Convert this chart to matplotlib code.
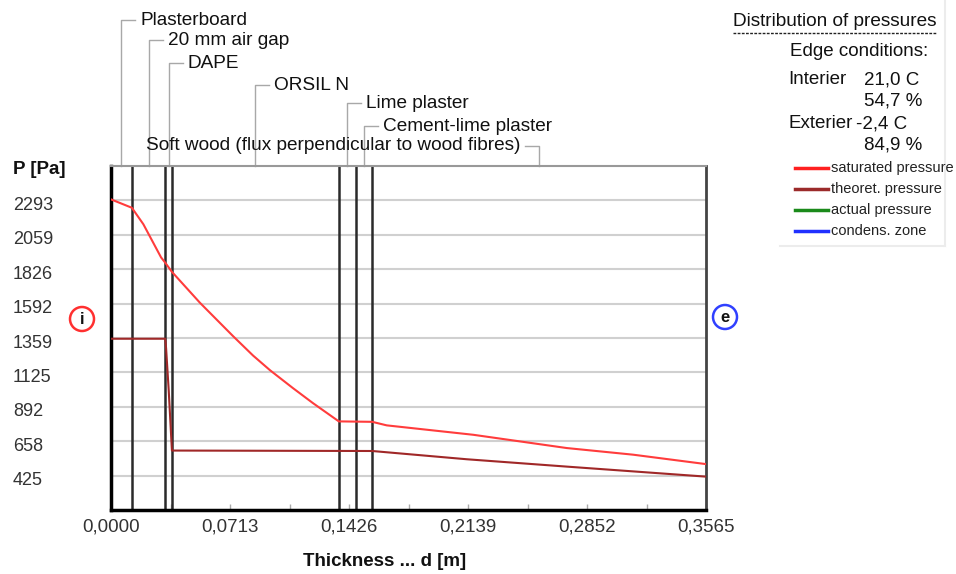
import matplotlib
matplotlib.use('Agg')
import matplotlib.pyplot as plt
import matplotlib.transforms as mtransforms
from matplotlib.lines import Line2D
from matplotlib.patches import Ellipse
from matplotlib.ticker import MultipleLocator

plt.rcParams['font.family'] = ['Liberation Sans', 'DejaVu Sans']

W, H = 956, 574

# wall layers, interior -> exterior, thickness boundaries in m
layer_names = ['Plasterboard', '20 mm air gap', 'DAPE', 'ORSIL N', 'Lime plaster',
               'Cement-lime plaster', 'Soft wood (flux perpendicular to wood fibres)']
layer_edges = [0.0, 0.0125, 0.0325, 0.0365, 0.1365, 0.1465, 0.1565, 0.3565]

# saturated pressure [Pa]
sat_d = [0.0, 0.0125, 0.0194, 0.0300, 0.0325, 0.0365, 0.0533, 0.0731, 0.0851, 0.0953,
         0.1090, 0.1210, 0.1365, 0.1565, 0.1652, 0.2171, 0.2731, 0.3128, 0.3565]
sat_p = [2300, 2243, 2131, 1906, 1870, 1808, 1598, 1372, 1240, 1140,
         1019, 917, 793, 790, 766, 702, 612, 567, 503]

# theoretical pressure [Pa]
theo_d = [0.0, 0.0325, 0.0330, 0.0346, 0.0365, 0.1565, 0.2131, 0.2731, 0.3565]
theo_p = [1354, 1354, 1290, 1000, 595, 592, 536, 486, 418]

ytick_vals = [425, 658, 892, 1125, 1359, 1592, 1826, 2059, 2293]
xtick_vals = [0.0, 0.0713, 0.1426, 0.2139, 0.2852, 0.3565]

legend_labels = ['saturated pressure', 'theoret. pressure', 'actual pressure', 'condens. zone']
legend_colors = ['#ff2020', '#9b2a2a', '#1a8a1a', '#2030ff']

edge_text = [('Interier', '21,0 C'), ('', '54,7 %'), ('Exterier', '-2,4 C'), ('', '84,9 %')]

# label rows above the chart (pixel y of each layer caption)
label_rows = [20, 40, 63, 85, 103, 126, 146]

fig = plt.figure(figsize=(W / 100, H / 100), dpi=100)
fig.patch.set_facecolor('white')

ax_l, ax_r, ax_t, ax_b = 111, 706, 166, 510
ax = fig.add_axes([ax_l / W, 1 - ax_b / H, (ax_r - ax_l) / W, (ax_b - ax_t) / H])

ax.yaxis.grid(True, color='#d0d0d0', lw=1.5)
ax.set_axisbelow(True)

for e in layer_edges[1:-1]:
    ax.axvline(e, color='#2a2a2a', lw=1.8, zorder=2)

ax.plot(sat_d, sat_p, color='#ff3c3c', lw=1.5, zorder=3)
ax.plot(theo_d, theo_p, color='#a02828', lw=1.5, zorder=3)

ax.set_xlim(layer_edges[0], layer_edges[-1])
ax.set_ylim(191.5, 2526.5)

ax.set_yticks(ytick_vals)
ax.set_yticklabels([str(v) for v in ytick_vals])
ax.tick_params(axis='y', length=0, pad=(ax_l - 13) * 0.72, labelsize=13, labelcolor='#333333')
shift = mtransforms.ScaledTranslation(0, -0.03, fig.dpi_scale_trans)
for lbl in ax.get_yticklabels():
    lbl.set_horizontalalignment('left')
    lbl.set_transform(lbl.get_transform() + shift)

ax.set_xticks(xtick_vals)
ax.set_xticklabels([f"{v:.4f}".replace('.', ',') for v in xtick_vals])
ax.xaxis.set_minor_locator(MultipleLocator(0.03565))
ax.tick_params(axis='x', which='both', direction='in', length=4, color='#aaaaaa',
               width=1, pad=6, labelsize=13.5, labelcolor='#333333')

for side, c, w in [('left', 'black', 2.5), ('bottom', 'black', 2.5),
                   ('right', '#444444', 2.0), ('top', '#999999', 1.5)]:
    ax.spines[side].set_color(c)
    ax.spines[side].set_linewidth(w)

# layer captions with bracket lines
trans = mtransforms.blended_transform_factory(ax.transData, ax.transAxes)
px_d = (layer_edges[-1] - layer_edges[0]) / (ax_r - ax_l)
for i, name in enumerate(layer_names):
    mid = (layer_edges[i] + layer_edges[i + 1]) / 2
    yf = (ax_b - label_rows[i]) / (ax_b - ax_t)
    last = i == len(layer_names) - 1
    sgn = -1 if last else 1
    ax.plot([mid, mid, mid + sgn * 14 * px_d], [1.0, yf, yf], transform=trans,
            color='#a8a8a8', lw=1, clip_on=False)
    ax.text(mid + sgn * 19 * px_d, yf, name, transform=trans, fontsize=13.7,
            ha='right' if last else 'left', va='center', color='#111111', clip_on=False)

fig.text(13 / W, 1 - 169 / H, 'P [Pa]', fontsize=13.5, weight='bold', va='center', color='#111111')
fig.text(385 / W, 1 - 561 / H, 'Thickness ... d [m]', fontsize=13.5, weight='bold',
         ha='center', va='center', color='#111111')

# interior / exterior markers
for cx, cy, letter, col in [(82, 319, 'i', '#ff3030'), (725, 317, 'e', '#3040ff')]:
    fig.add_artist(Ellipse((cx / W, 1 - cy / H), 24 / W, 24 / H, transform=fig.transFigure,
                           fill=False, ec=col, lw=1.8))
    fig.text(cx / W, 1 - cy / H, letter, fontsize=12, weight='bold', ha='center',
             va='center', color='#111111')

# right panel
fig.text(733 / W, 1 - 21 / H, 'Distribution of pressures', fontsize=13.7, va='center', color='#111111')
fig.add_artist(Line2D([733 / W, 937 / W], [1 - 33 / H] * 2, ls=(0, (2, 1)), color='#222222', lw=1))
fig.text(928 / W, 1 - 52 / H, 'Edge conditions:', fontsize=13.5, ha='right', va='center', color='#111111')
value_x = [864, 864, 856, 864]
for k, (lab, val) in enumerate(edge_text):
    yy = 1 - [80, 101, 124, 145][k] / H
    if lab:
        fig.text(788 / W, yy, lab, fontsize=13.5, va='center', color='#111111')
    fig.text(value_x[k] / W, yy, val, fontsize=13.5, va='center', color='#111111')

for k, (lab, col) in enumerate(zip(legend_labels, legend_colors)):
    yy = 1 - (168 + 21 * k) / H
    fig.add_artist(Line2D([795 / W, 828 / W], [yy, yy], color=col, lw=2.5))
    fig.text(831 / W, yy, lab, fontsize=10.5, va='center', color='#222222')

fig.add_artist(Line2D([945 / W, 945 / W], [1.0, 1 - 246 / H], color='#ececec', lw=1.5))
fig.add_artist(Line2D([780 / W, 945 / W], [1 - 246 / H] * 2, color='#ececec', lw=1.5))

fig.savefig('out.png', dpi=100)
